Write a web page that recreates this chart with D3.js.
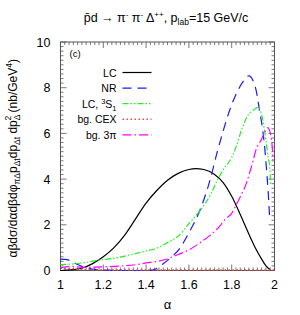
<!DOCTYPE html>
<html>
<head>
<meta charset="utf-8">
<script src="https://cdn.jsdelivr.net/npm/d3@7"></script>
<style>
body { margin: 0; background: #fff; }
svg text { font-family: "Liberation Sans", Arial, sans-serif; }
</style>
</head>
<body>
<svg width="300" height="315"></svg>
<script>
// curves: [alpha, value]
var lc = [[1.0,0.0],[1.05,0.03],[1.1,0.1],[1.15,0.3],[1.2,0.6],[1.25,1.0],[1.3,1.55],[1.35,2.25],[1.4,2.95],[1.45,3.5],[1.5,3.95],
  [1.55,4.25],[1.6,4.42],[1.63,4.46],[1.67,4.42],[1.72,4.2],[1.76,3.85],[1.8,3.25],[1.84,2.45],[1.88,1.6],[1.91,1.0],
  [1.94,0.5],[1.96,0.2],[1.98,0.03]];
var nr = [[1.0,0.5],[1.03,0.48],[1.06,0.35],[1.1,0.18],[1.15,0.06],[1.2,0.02],[1.3,0.0],[1.4,0.0],[1.44,0.05],[1.48,0.3],
  [1.52,0.6],[1.556,0.95],[1.6,1.65],[1.65,2.6],[1.7,4.0],[1.73,5.1],[1.76,6.1],[1.79,7.0],[1.83,7.9],[1.86,8.35],
  [1.88,8.52],[1.9,8.3],[1.915,7.85],[1.93,7.0],[1.945,6.15],[1.955,5.3],[1.962,4.5],[1.97,3.5],[1.978,2.2]];
var lc3s1 = [[1.0,0.26],[1.05,0.28],[1.1,0.33],[1.18,0.45],[1.26,0.55],[1.34,0.72],[1.4,0.85],[1.45,0.98],[1.5,1.22],
  [1.55,1.5],[1.6,2.05],[1.65,2.6],[1.7,3.3],[1.73,3.9],[1.76,4.4],[1.8,4.95],[1.82,5.4],[1.85,6.25],[1.88,6.85],
  [1.9,7.0],[1.922,7.14],[1.945,6.6],[1.96,5.7],[1.97,4.95],[1.977,4.6],[1.982,3.8]];
var cex = [[1.0,0.1],[1.05,0.08],[1.1,0.05],[1.2,0.03],[1.4,0.02],[1.6,0.02],[1.8,0.02],[2.0,0.02]];
var bg3pi = [[1.0,0.12],[1.05,0.18],[1.1,0.14],[1.2,0.16],[1.29,0.2],[1.34,0.24],[1.4,0.33],[1.49,0.48],[1.55,0.7],
  [1.6,0.9],[1.65,1.2],[1.7,1.55],[1.74,1.9],[1.77,2.25],[1.8,2.5],[1.82,2.85],[1.844,3.3],[1.868,3.8],[1.883,4.25],
  [1.9,4.8],[1.914,5.3],[1.937,5.7],[1.955,6.05],[1.968,6.25],[1.978,6.1],[1.984,5.84],[1.99,5.33],[1.993,4.83]];

var xTicks = [1, 1.2, 1.4, 1.6, 1.8, 2];
var yTicks = [0, 2, 4, 6, 8, 10];

var series = [
  {name: "LC", data: lc, color: "#000000", dash: null, w: 1.2},
  {name: "NR", data: nr, color: "#1a1aff", dash: "9,6", w: 1.2},
  {name: "LC, 3S1", data: lc3s1, color: "#22ee22", dash: "6,2,1.5,2,1.5,2", w: 1.2},
  {name: "bg. CEX", data: cex, color: "#ff4444", dash: "1.5,2.5", w: 1.5},
  {name: "bg. 3π", data: bg3pi, color: "#ff00ff", dash: "9,3,1.5,3", w: 1.2}
];

var svg = d3.select("svg"),
    margin = {top: 42, left: 60.5},
    width = 214,
    height = 228.5,
    g = svg.append("g").attr("transform", "translate(" + margin.left + "," + margin.top + ")");

var x = d3.scaleLinear().domain([1, 2]).range([0, width]);
var y = d3.scaleLinear().domain([0, 10]).range([height, 0]);

var line = d3.line()
    .x(function(d) { return x(d[0]); })
    .y(function(d) { return y(d[1]); })
    .curve(d3.curveMonotoneX);

// ticks on all four sides, gnuplot style
var frameCol = "#555";
var xMinor = d3.range(1, 2.0001, 0.02);
var yMinor = d3.range(0, 10.0001, 0.2);
xMinor.forEach(function(v) {
  var major = xTicks.some(function(t) { return Math.abs(t - v) < 1e-6; });
  var len = major ? 6 : 3;
  g.append("line").attr("x1", x(v)).attr("x2", x(v)).attr("y1", height).attr("y2", height - len).attr("stroke", frameCol).attr("stroke-width", 0.8);
  g.append("line").attr("x1", x(v)).attr("x2", x(v)).attr("y1", 0).attr("y2", len).attr("stroke", frameCol).attr("stroke-width", 0.8);
});
yMinor.forEach(function(v) {
  var major = yTicks.some(function(t) { return Math.abs(t - v) < 1e-6; });
  var len = major ? 6 : 3;
  g.append("line").attr("y1", y(v)).attr("y2", y(v)).attr("x1", 0).attr("x2", len).attr("stroke", frameCol).attr("stroke-width", 0.8);
  g.append("line").attr("y1", y(v)).attr("y2", y(v)).attr("x1", width).attr("x2", width - len).attr("stroke", frameCol).attr("stroke-width", 0.8);
});

g.selectAll(".xl").data(xTicks).enter().append("text")
  .attr("x", function(d) { return x(d); }).attr("y", height + 18)
  .attr("text-anchor", "middle").attr("font-size", 12.5).text(function(d) { return d; });
g.selectAll(".yl").data(yTicks).enter().append("text")
  .attr("x", -10).attr("y", function(d) { return y(d) + 4.5; })
  .attr("text-anchor", "end").attr("font-size", 12.5).text(function(d) { return d; });

g.append("rect").attr("width", width).attr("height", height)
  .attr("fill", "none").attr("stroke", frameCol).attr("stroke-width", 1);

// curves
series.forEach(function(s) {
  g.append("path").datum(s.data)
    .attr("fill", "none").attr("stroke", s.color).attr("stroke-width", s.w)
    .attr("stroke-dasharray", s.dash)
    .attr("d", line);
});

// legend
var leg = g.append("g");
series.forEach(function(s, i) {
  var ly = 30.5 + i * 15.6;
  var t = leg.append("text").attr("x", 56).attr("y", ly + 4).attr("text-anchor", "end").attr("font-size", 10.5);
  if (s.name == "LC, 3S1") {
    t.append("tspan").text("LC, ");
    t.append("tspan").attr("dy", -4).attr("font-size", 7.5).text("3");
    t.append("tspan").attr("dy", 4).text("S");
    t.append("tspan").attr("dy", 3).attr("font-size", 7.5).text("1");
  } else {
    t.text(s.name);
  }
  leg.append("line").attr("x1", 62).attr("x2", 91).attr("y1", ly).attr("y2", ly)
    .attr("stroke", s.color).attr("stroke-width", s.w).attr("stroke-dasharray", s.dash);
});

g.append("text").attr("x", 9).attr("y", 15).attr("font-size", 9.5).text("(c)");

// x label
svg.append("text").attr("x", margin.left + width / 2).attr("y", 309)
  .attr("text-anchor", "middle").attr("font-size", 13).text("α");

// title
var title = svg.append("text").attr("x", 166).attr("y", 22).attr("text-anchor", "middle").attr("font-size", 12.5);
title.append("tspan").text("p\u0304d \u2192 \u03c0");
title.append("tspan").attr("dy", -5).attr("font-size", 8).text("-");
title.append("tspan").attr("dy", 5).text(" \u03c0");
title.append("tspan").attr("dy", -5).attr("font-size", 8).text("-");
title.append("tspan").attr("dy", 5).text(" \u0394");
title.append("tspan").attr("dy", -5).attr("font-size", 8).text("++");
title.append("tspan").attr("dy", 5).text(", p");
title.append("tspan").attr("dy", 3).attr("font-size", 8.5).text("lab");
title.append("tspan").attr("dy", -3).text("=15 GeV/c");

// y label
var yl = svg.append("text").attr("transform", "translate(17," + (margin.top + height / 2 + 2) + ") rotate(-90)")
  .attr("text-anchor", "middle").attr("font-size", 12);
yl.append("tspan").text("αβdσ/dαdβdφ");
yl.append("tspan").attr("dy", 3).attr("font-size", 8.5).text("πΔ");
yl.append("tspan").attr("dy", -3).text("p");
yl.append("tspan").attr("dy", 3).attr("font-size", 8.5).text("Δt");
yl.append("tspan").attr("dy", -3).text("dp");
yl.append("tspan").attr("dy", 3).attr("font-size", 8.5).text("Δt");
yl.append("tspan").attr("dy", -3).text(" dp");
yl.append("tspan").attr("dy", 3).attr("font-size", 8.5).text("Δ");
yl.append("tspan").attr("dy", -9).attr("dx", -6).attr("font-size", 8.5).text("2");
yl.append("tspan").attr("dy", 6).text(" (nb/GeV");
yl.append("tspan").attr("dy", -5).attr("font-size", 8.5).text("4");
yl.append("tspan").attr("dy", 5).text(")");
</script>
</body>
</html>
